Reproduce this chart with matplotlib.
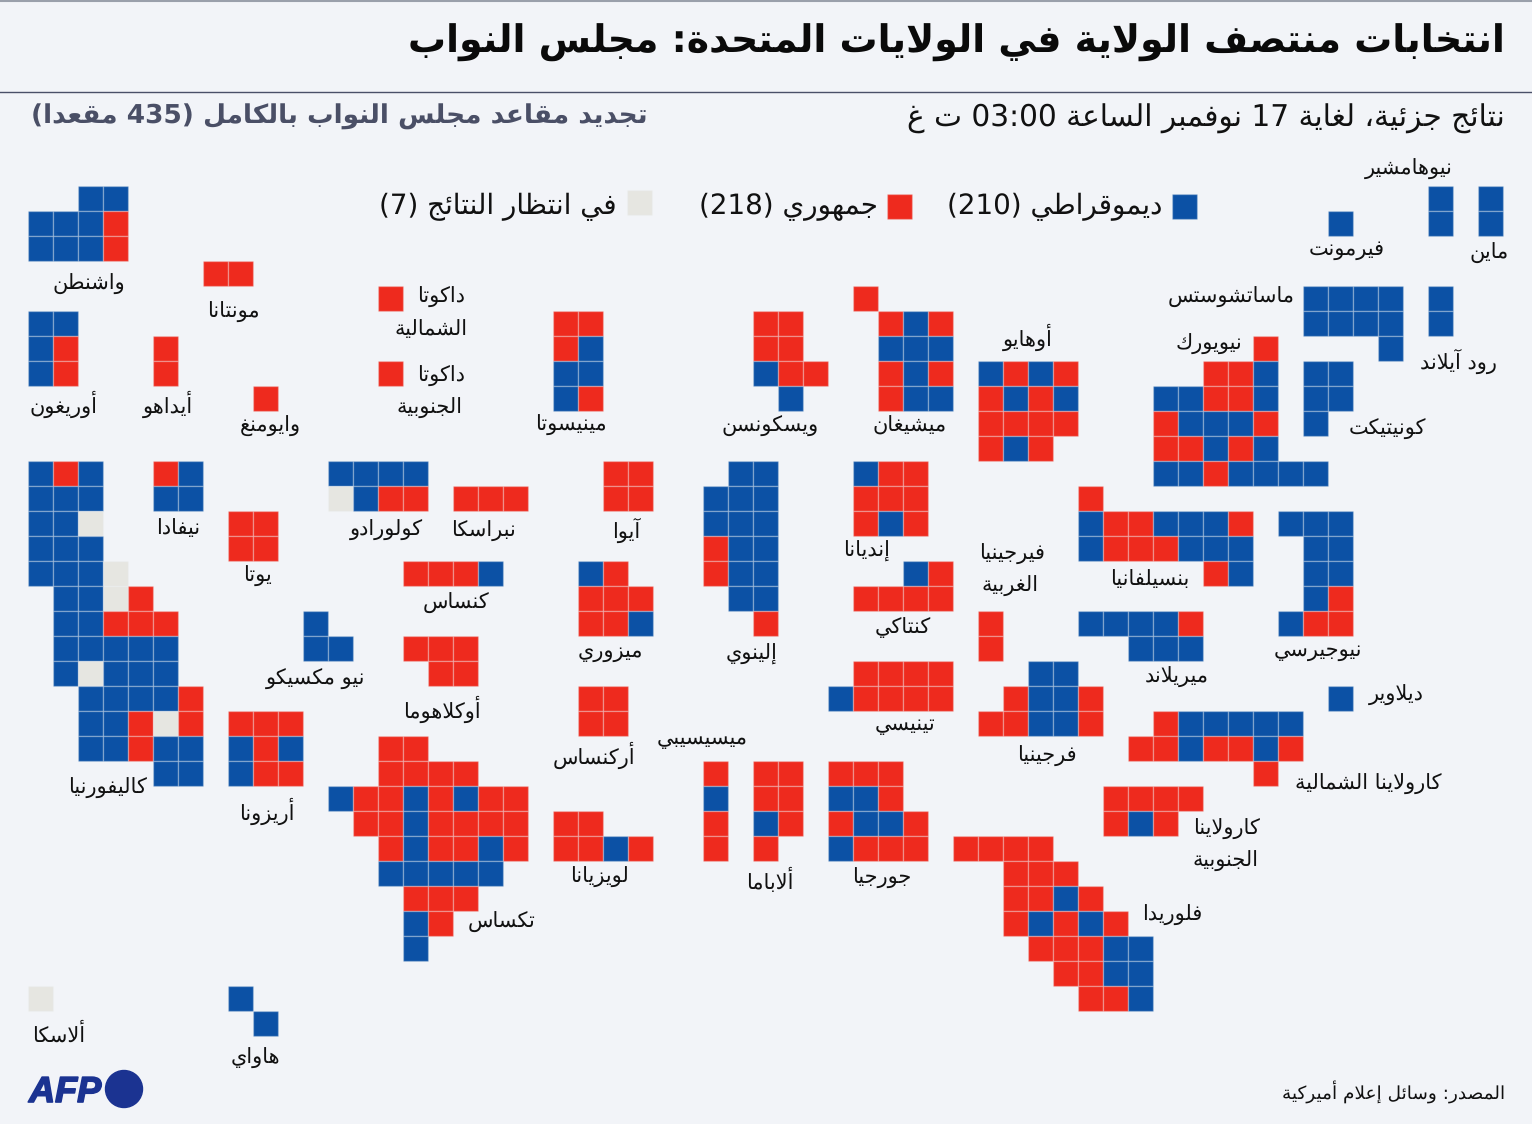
import re
import matplotlib

matplotlib.use("Agg")
import matplotlib.pyplot as plt
import matplotlib.patheffects as pe
from matplotlib.patches import Rectangle, Circle

plt.rcParams["font.family"] = ["DejaVu Sans"]
plt.rcParams["text.hinting"] = "none"

# seats per state, row by row: D dem, R rep, P pending, . empty
washington = ["..DD", "DDDR", "DDDR"]
montana = ["RR"]
oregon = ["DD", "DR", "DR"]
idaho = ["R", "R"]
wyoming = ["R"]
north_dakota = ["R"]
south_dakota = ["R"]
minnesota = ["RR", "RD", "DD", "DR"]
wisconsin = ["RR.", "RR.", "DRR", ".D."]
michigan = ["R...", ".RDR", ".DDD", ".RDR", ".RDD"]
ohio = ["DRDR", "RDRD", "RRRR", "RDR."]
vermont = ["D"]
new_hampshire = ["D", "D"]
maine = ["D", "D"]
massachusetts = ["DDDD", "DDDD", "...D"]
rhode_island = ["D", "D"]
connecticut = ["DD", "DD", "D."]
new_york = ["....R..", "..RRD..", "DDRRD..", "RDDDR..", "RRDRD..", "DDRDDDD"]
pennsylvania = ["R......", "DRRDDDR", "DRRRDDD", ".....RD"]
new_jersey = ["DDD", ".DD", ".DD", ".DR", "DRR"]
indiana = ["DRR", "RRR", "RDR"]
kentucky = ["..DR", "RRRR"]
west_virginia = ["R", "R"]
tennessee = [".RRRR", "DRRRR"]
virginia = ["..DD.", ".RDDR", "RRDDR"]
maryland = ["DDDDR", "..DDD"]
delaware = ["D"]
north_carolina = [".RDDDDD", "RRDRRDR", ".....R."]
south_carolina = ["RRRR", "RDR."]
georgia = ["RRR.", "DDR.", "RDDR", "DRRR"]
florida = ["RRRR....", "..RRR...", "..RRDR..", "..RDRDR.", "...RRRDD", "....RRDD", ".....RRD"]
alabama = ["RR", "RR", "DR", "R."]
mississippi = ["R", "D", "R", "R"]
louisiana = ["RR..", "RRDR"]
arkansas = ["RR", "RR"]
texas = ["..RR....", "..RRRR..", "DRRDRDRR", ".RRDRRRR", "..RDRRDR", "..DDDDD.", "...RRR..", "...DR...", "...D...."]
oklahoma = ["RRR", ".RR"]
kansas = ["RRRD"]
nebraska = ["RRR"]
iowa = ["RR", "RR"]
missouri = ["DR.", "RRR", "RRD"]
illinois = [".DD", "DDD", "DDD", "RDD", "RDD", ".DD", "..R"]
colorado = ["DDDD", "PDRR"]
new_mexico = ["D.", "DD"]
arizona = ["RRR", "DRD", "DRR"]
utah = ["RR", "RR"]
nevada = ["RD", "DD"]
california = [
    "DRD....", "DDD....", "DDP....", "DDD....", "DDDP...", ".DDPR..", ".DDRRR.",
    ".DDDDD.", ".DPDDD.", "..DDDDR", "..DDRPR", "..DDRDD", ".....DD",
]
alaska = ["P"]
hawaii = ["D.", ".D"]

states = [
    washington, montana, oregon, idaho, wyoming, north_dakota, south_dakota, minnesota,
    wisconsin, michigan, ohio, vermont, new_hampshire, maine, massachusetts, rhode_island,
    connecticut, new_york, pennsylvania, new_jersey, indiana, kentucky, west_virginia,
    tennessee, virginia, maryland, delaware, north_carolina, south_carolina, georgia,
    florida, alabama, mississippi, louisiana, arkansas, texas, oklahoma, kansas, nebraska,
    iowa, missouri, illinois, colorado, new_mexico, arizona, utah, nevada, california,
    alaska, hawaii,
]
# top-left grid cell of each state, same order
state_cols = [
    0, 7, 0, 5, 9, 14, 14, 21, 29, 33, 38, 52, 56, 58, 51, 56, 51, 45, 42, 50, 33, 33, 38,
    32, 38, 42, 52, 44, 43, 32, 37, 29, 27, 21, 22, 12, 15, 15, 17, 23, 22, 27, 12, 11, 8,
    8, 5, 0, 0, 8,
]
state_rows = [
    0, 3, 5, 6, 8, 4, 7, 5, 5, 4, 7, 1, 0, 0, 4, 4, 7, 6, 12, 13, 11, 15, 17,
    19, 19, 17, 20, 21, 24, 23, 26, 23, 23, 25, 20, 22, 18, 15, 12, 11, 15, 11, 11, 17, 21,
    13, 11, 11, 32, 32,
]

labels = [
    "واشنطن", "مونتانا", "أوريغون", "أيداهو", "وايومنغ", "داكوتا", "الشمالية", "داكوتا", "الجنوبية",
    "مينيسوتا", "ويسكونسن", "ميشيغان", "أوهايو", "نيوهامشير", "فيرمونت", "ماين", "ماساتشوستس",
    "نيويورك", "رود آيلاند", "كونيتيكت", "نيفادا", "كولورادو", "نبراسكا", "آيوا", "إنديانا", "يوتا",
    "كنساس", "ميزوري", "إلينوي", "كنتاكي", "فيرجينيا", "الغربية", "بنسيلفانيا", "نيوجيرسي", "ميريلاند",
    "ديلاوير", "نيو مكسيكو", "أوكلاهوما", "تينيسي", "فرجينيا", "أركنساس", "ميسيسيبي", "كاليفورنيا",
    "أريزونا", "كارولاينا الشمالية", "كارولاينا", "الجنوبية", "لويزيانا", "ألاباما", "جورجيا", "تكساس",
    "فلوريدا", "ألاسكا", "هاواي",
]
label_x = [
    89, 233, 63, 168, 270, 441, 431, 441, 430,
    571, 770, 910, 1028, 1409, 1347, 1489, 1231,
    1209, 1458, 1387, 178, 386, 483, 626, 866, 257,
    456, 610, 752, 903, 1012, 1010, 1150, 1318, 1177,
    1396, 316, 442, 905, 1047, 594, 702, 107,
    267, 1368, 1226, 1226, 599, 770, 882, 502,
    1172, 59, 255,
]
label_y = [
    284, 312, 404, 404, 426, 297, 329, 376, 408,
    425, 426, 426, 337, 169, 250, 253, 297,
    344, 361, 429, 528, 530, 531, 530, 551, 576,
    603, 652, 654, 628, 554, 586, 579, 651, 677,
    695, 679, 709, 725, 756, 755, 739, 788,
    811, 784, 829, 861, 877, 881, 878, 922,
    915, 1035, 1058,
]

legend_names = ["ديموقراطي (210)", "جمهوري (218)", "في انتظار النتائج (7)"]
legend_parties = ["D", "R", "P"]
legend_box_x = [1171.5, 886.5, 626.5]
legend_box_y = [193.5, 193.5, 189.5]
legend_text_x = [1162, 878, 617]

title = "انتخابات منتصف الولاية في الولايات المتحدة: مجلس النواب"
subtitle = "نتائج جزئية، لغاية 17 نوفمبر الساعة 03:00 ت غ"
note = "تجديد مقاعد مجلس النواب بالكامل (435 مقعدا)"
source = "المصدر: وسائل إعلام أميركية"

COLORS = {"D": "#0c51a5", "R": "#ee2a1e", "P": "#e6e6e1"}
BG = "#f2f4f8"
CELL = 25
GRID_X0 = 27.5
GRID_Y0 = 185.5
LABEL_SIZE = 15

# matplotlib does no arabic shaping, so map letters to presentation forms by hand
FORMS = {}
code = 0xFE80
for ch, n in [
    ("ء", 1), ("آ", 2), ("أ", 2), ("ؤ", 2), ("إ", 2), ("ئ", 4), ("ا", 2), ("ب", 4), ("ة", 2),
    ("ت", 4), ("ث", 4), ("ج", 4), ("ح", 4), ("خ", 4), ("د", 2), ("ذ", 2), ("ر", 2), ("ز", 2),
    ("س", 4), ("ش", 4), ("ص", 4), ("ض", 4), ("ط", 4), ("ظ", 4), ("ع", 4), ("غ", 4), ("ف", 4),
    ("ق", 4), ("ك", 4), ("ل", 4), ("م", 4), ("ن", 4), ("ه", 4), ("و", 2), ("ى", 2), ("ي", 4),
]:
    FORMS[ch] = [chr(code + i) for i in range(n)]
    code += n
code = 0xFEF5
for ch in ["لآ", "لأ", "لإ", "لا"]:
    FORMS[ch] = [chr(code), chr(code + 1)]
    code += 2


def shape(text):
    units = re.findall("ل[آأإا]|.", text)
    out = []
    for i, u in enumerate(units):
        if u not in FORMS:
            out.append(u)
            continue
        forms = FORMS[u]
        prev = units[i - 1] if i > 0 else ""
        nxt = units[i + 1] if i < len(units) - 1 else ""
        joins_prev = len(FORMS.get(prev, [])) == 4 and len(forms) > 1
        joins_next = len(forms) == 4 and len(FORMS.get(nxt, [])) > 1
        if joins_prev and joins_next:
            out.append(forms[3])
        elif joins_next:
            out.append(forms[2])
        elif joins_prev:
            out.append(forms[1])
        else:
            out.append(forms[0])
    # visual order: reverse all, then put digit runs and brackets right
    visual = "".join(out)[::-1]
    visual = re.sub(r"[0-9:]*[0-9]", lambda m: m.group(0)[::-1], visual)
    return visual.translate(str.maketrans("()", ")("))


fig = plt.figure(figsize=(15.32, 11.24), dpi=100, facecolor=BG)
ax = fig.add_axes([0, 0, 1, 1])
ax.set_xlim(0, 1532)
ax.set_ylim(1124, 0)
ax.axis("off")

ax.plot([0, 1532], [0.5, 0.5], color="#9aa0ab", lw=1.5)
ax.plot([0, 1532], [91.5, 91.5], color="#4a5068", lw=1)


def add_cell(x, y, party):
    ax.add_patch(Rectangle((x, y), CELL, CELL, facecolor=COLORS[party],
                           edgecolor=(0.95, 0.96, 0.97, 0.28), lw=1))


for seats, col, row in zip(states, state_cols, state_rows):
    for r, line in enumerate(seats):
        for c, party in enumerate(line):
            if party != ".":
                add_cell(GRID_X0 + (col + c) * CELL, GRID_Y0 + (row + r) * CELL, party)

for name, x, y in zip(labels, label_x, label_y):
    ax.text(x, y, shape(name), ha="center", va="center", fontsize=LABEL_SIZE, color="#111111")

for name, party, bx, by, tx in zip(legend_names, legend_parties, legend_box_x, legend_box_y, legend_text_x):
    add_cell(bx, by, party)
    ax.text(tx, 207, shape(name), ha="right", va="center", fontsize=20, color="#111111")

ax.text(1505, 43, shape(title), ha="right", va="center", fontsize=27.3, fontweight="bold", color="#0a0a0a")
ax.text(1505, 119, shape(subtitle), ha="right", va="center", fontsize=21.35, color="#111111")
ax.text(648, 117, shape(note), ha="right", va="center", fontsize=19, fontweight="bold", color="#4a4f66")
ax.text(1505, 1092, shape(source), ha="right", va="center", fontsize=13.3, color="#111111")

# AFP logo
afp = ax.text(29, 1102, "AFP", ha="left", va="baseline", fontsize=26, fontweight="bold", style="italic",
              family="Liberation Sans", color="#1b3391")
afp.set_path_effects([pe.withStroke(linewidth=1.2, foreground="#1b3391")])
ax.add_patch(Circle((124, 1089), 18.5, color="#1b3391"))

fig.savefig("out.png", dpi=100, facecolor=BG)
